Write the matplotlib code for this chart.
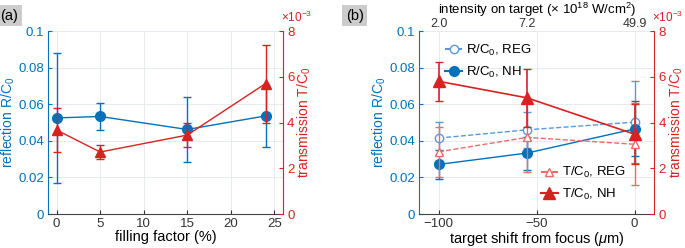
import numpy as np
import matplotlib
matplotlib.use('Agg')
import matplotlib.pyplot as plt
from matplotlib.lines import Line2D

plt.rcParams['font.family'] = ['Liberation Sans', 'DejaVu Sans']
plt.rcParams['mathtext.fontset'] = 'custom'
plt.rcParams['mathtext.rm'] = 'Liberation Sans'
plt.rcParams['mathtext.it'] = 'Liberation Sans:italic'

# panel (a)
ff = [0, 5, 15, 24]
r_ff = [0.0525, 0.0533, 0.0462, 0.0536]
r_ff_err = [0.0355, 0.0073, 0.0178, 0.0171]
t_ff = [3.67, 2.71, 3.45, 5.70]
t_ff_err = [0.95, 0.30, 0.52, 1.70]

# panel (b)
shift = [-100, -55, 0]
intensity = ['2.0', '7.2', '49.9']
r_reg = [0.0415, 0.0460, 0.0502]
r_reg_err = [0.0086, 0.0100, 0.0225]
r_nh = [0.0271, 0.0333, 0.0465]
r_nh_err = [0.0080, 0.0090, 0.0150]
t_reg = [2.72, 3.35, 3.05]
t_reg_err = [1.10, 1.50, 1.80]
t_nh = [5.80, 5.08, 3.49]
t_nh_err = [0.85, 1.28, 1.30]

blue = (0.0, 0.447, 0.741)
red = (0.85, 0.13, 0.13)
lblue = (0.35, 0.6, 0.85)
lred = (0.93, 0.42, 0.42)
gridc = (0.9, 0.92, 0.94)

fig = plt.figure(figsize=(6.85, 2.48), dpi=100)


def style_axes(ax, ax2):
    ax.set_ylim(0, 0.1)
    ax.set_yticks([0, 0.02, 0.04, 0.06, 0.08, 0.1])
    ax.set_yticklabels(['0', '0.02', '0.04', '0.06', '0.08', '0.1'])
    ax2.set_ylim(0, 8)
    ax2.set_yticks([0, 2, 4, 6, 8])
    ax.grid(True, color=gridc, lw=0.7)
    ax.set_axisbelow(True)
    ax.tick_params(axis='y', colors=blue, labelsize=9.5, direction='in', length=3, pad=3)
    ax.tick_params(axis='x', colors='#333333', labelsize=9.5, direction='in', length=3, pad=3)
    ax2.tick_params(axis='y', colors=red, labelsize=9.5, direction='in', length=3, pad=3)
    ax.spines['left'].set_color(blue)
    ax.spines['top'].set_visible(False)
    ax.spines['right'].set_visible(False)
    ax.spines['bottom'].set_color('#444444')
    ax2.spines['right'].set_color(red)
    ax2.spines['left'].set_visible(False)
    ax2.spines['top'].set_visible(False)
    ax2.spines['bottom'].set_visible(False)
    ax.set_ylabel('reflection R/C$_0$', color=blue, fontsize=10, labelpad=1)
    ax2.set_ylabel('transmission T/C$_0$', color=red, fontsize=10, labelpad=1)
    ax2.text(0.99, 1.035, '$\\times$10$^{-3}$', transform=ax2.transAxes, color=red,
             fontsize=8.5, ha='left', va='bottom')


# (a)
axa = fig.add_axes([0.070, 0.137, 0.343, 0.738])
axa2 = axa.twinx()
axa.errorbar(ff, r_ff, yerr=r_ff_err, color=blue, marker='o', ms=7, lw=1,
             capsize=3, elinewidth=1)
axa2.errorbar(ff, t_ff, yerr=t_ff_err, color=red, marker='^', ms=7, lw=1,
              capsize=3, elinewidth=1)
axa.set_xlim(-1, 26)
axa.set_xticks([0, 5, 10, 15, 20, 25])
axa.set_xlabel('filling factor (%)', fontsize=10.5, labelpad=0)
style_axes(axa, axa2)
fig.text(0.0, 0.965, '(a)', fontsize=10.5, va='top', ha='left',
         bbox=dict(boxstyle='square,pad=0.25', fc='#cccccc', ec='none'))

# (b)
axb = fig.add_axes([0.612, 0.137, 0.343, 0.738])
axb2 = axb.twinx()
axb.errorbar(shift, r_reg, yerr=r_reg_err, color=lblue, marker='o', mfc='white',
             ms=6, lw=1, ls='--', capsize=3, elinewidth=1)
axb2.errorbar(shift, t_reg, yerr=t_reg_err, color=lred, marker='^', mfc='white',
              ms=6, lw=1, ls='--', capsize=3, elinewidth=1)
axb.errorbar(shift, r_nh, yerr=r_nh_err, color=blue, marker='o', ms=7, lw=1,
             capsize=3, elinewidth=1)
axb2.errorbar(shift, t_nh, yerr=t_nh_err, color=red, marker='^', ms=8, lw=1.2,
              capsize=3, elinewidth=1.2)
axb.set_xlim(-110, 10)
axb.set_xticks([-100, -50, 0])
axb.set_xlabel('target shift from focus ($\\mu$m)', fontsize=10.5, labelpad=0)
style_axes(axb, axb2)

axt = axb.twiny()
axt.set_xlim(axb.get_xlim())
axt.set_xticks(shift)
axt.set_xticklabels(intensity)
axt.tick_params(axis='x', colors='#333333', labelsize=9, direction='in', length=0, pad=1)
for s in axt.spines.values():
    s.set_visible(False)
fig.text(0.7835, 0.998, 'intensity on target ($\\times$ 10$^{18}$ W/cm$^2$)',
         fontsize=9.5, ha='center', va='top')

h_r = [Line2D([], [], color=lblue, ls='--', marker='o', mfc='white', ms=6),
       Line2D([], [], color=blue, marker='o', ms=7)]
axb.legend(h_r, ['R/C$_0$, REG', 'R/C$_0$, NH'], loc='upper left', frameon=False,
           fontsize=9.5, handlelength=1.3, handletextpad=0.3, bbox_to_anchor=(0.06, 1.0))
h_t = [Line2D([], [], color=lred, ls='--', marker='^', mfc='white', ms=6),
       Line2D([], [], color=red, marker='^', ms=8)]
axb2.legend(h_t, ['T/C$_0$, REG', 'T/C$_0$, NH'], loc='lower right', frameon=False,
            fontsize=9.5, handlelength=1.3, handletextpad=0.3, bbox_to_anchor=(0.93, 0.0))
fig.text(0.505, 0.965, '(b)', fontsize=10.5, va='top', ha='left',
         bbox=dict(boxstyle='square,pad=0.25', fc='#cccccc', ec='none'))

fig.savefig('out.png', dpi=100)
